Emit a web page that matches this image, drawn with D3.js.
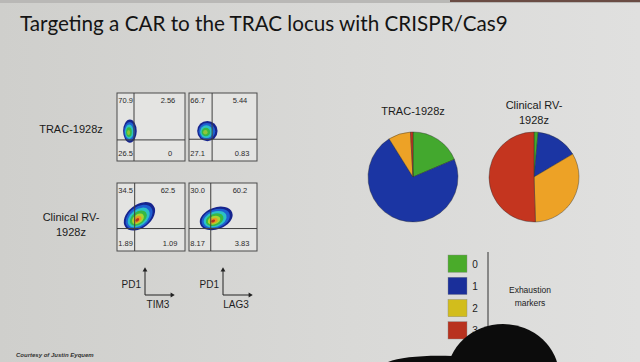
<!DOCTYPE html>
<html>
<head>
<meta charset="utf-8">
<script src="https://cdn.jsdelivr.net/npm/d3@7"></script>
<style>
  html, body { margin: 0; padding: 0; background: #d6d6d4; }
  svg { display: block; }
</style>
</head>
<body>
<svg id="chart" width="640" height="362"></svg>
<script>
// ---- data ----
var title = "Targeting a CAR to the TRAC locus with CRISPR/Cas9";
var rowLabels = [["TRAC-1928z"], ["Clinical RV-", "1928z"]];
var markerX = ["TIM3", "LAG3"];
var markerY = "PD1";

// quadrant percentages per flow plot: [top-left, top-right, bottom-left, bottom-right]
var quadTRAC = [["70.9", "2.56", "26.5", "0"], ["66.7", "5.44", "27.1", "0.83"]];
var quadRV = [["34.5", "62.5", "1.89", "1.09"], ["30.0", "60.2", "8.17", "3.83"]];

// gate positions (fraction of axis) and population centre / spread for each plot
var gateX = [[0.25, 0.34], [0.26, 0.32]];
var gateY = [[0.31, 0.32], [0.33, 0.33]];
var popCenter = [[[0.19, 0.44], [0.27, 0.44]], [[0.33, 0.51], [0.40, 0.48]]];
var popSpread = [[[0.10, 0.17, 0], [0.15, 0.15, 0]], [[0.26, 0.17, -38], [0.25, 0.16, -20]]];

var pieNames = [["TRAC-1928z"], ["Clinical RV-", "1928z"]];
var exhaustion = ["0", "1", "2", "3"];
var pieTRAC = [18.6, 72.5, 8.0, 0.9];
var pieRV = [1.5, 15.0, 33.0, 50.5];

var pieColors = ["#43a82e", "#1b35a3", "#eda226", "#c4351f"];
var legendColors = ["#4aab2a", "#1a2f9a", "#d2bd1c", "#b8321f"];
var densityColors = ["#16248e", "#1f5fd0", "#2cc0c6", "#38b844", "#a9d431", "#e79a22", "#b5331e"];

var svg = d3.select("#chart");
var W = 640, H = 362;

// ---- background (projected slide photo) ----
var defs = svg.append("defs");
var bg = defs.append("linearGradient").attr("id", "bg").attr("x1", 0).attr("x2", 1).attr("y1", 0).attr("y2", 0);
bg.append("stop").attr("offset", "0%").attr("stop-color", "#cfcfcc");
bg.append("stop").attr("offset", "55%").attr("stop-color", "#d9d9d7");
bg.append("stop").attr("offset", "100%").attr("stop-color", "#e0e0df");
svg.append("rect").attr("width", W).attr("height", H).attr("fill", "url(#bg)");
svg.append("rect").attr("x", 0).attr("y", 0).attr("width", W).attr("height", 3).attr("fill", "#b9b8b6");
svg.append("rect").attr("x", 450).attr("y", 0).attr("width", 190).attr("height", 2).attr("fill", "#6a4c44");

// ---- title ----
var t = svg.append("text")
    .attr("x", 20).attr("y", 31)
    .attr("font-family", "Lato, 'Open Sans', sans-serif")
    .attr("font-size", 24)
    .attr("fill", "#141414")
    .text(title);
var tw = t.node().getComputedTextLength();
t.attr("font-size", 24 * 488 / tw);

// ---- flow plots ----
var boxX = [117, 189];
var boxY = [93, 183];
var boxW = 68, boxH = 68;
var rows = [quadTRAC, quadRV];

rows.forEach(function (quads, r) {
    var lab = svg.append("text")
        .attr("font-family", "Arial, 'Liberation Sans', sans-serif")
        .attr("font-size", 11)
        .attr("fill", "#1a1a1a")
        .attr("text-anchor", "middle");
    var lines = rowLabels[r];
    var y0 = r === 0 ? 133 : 221;
    lines.forEach(function (s, i) {
        lab.append("tspan").attr("x", 71).attr("y", y0 + i * 15).text(s);
    });

    quads.forEach(function (q, c) {
        var x = d3.scaleLinear().domain([0, 1]).range([boxX[c], boxX[c] + boxW]);
        var y = d3.scaleLinear().domain([0, 1]).range([boxY[r] + boxH, boxY[r]]);
        var g = svg.append("g");

        g.append("rect")
            .attr("x", x(0)).attr("y", y(1))
            .attr("width", x(1) - x(0)).attr("height", y(0) - y(1))
            .attr("fill", "#e4e4e2").attr("stroke", "#4a4a4a").attr("stroke-width", 1);

        // population as nested density levels
        var cen = popCenter[r][c], sp = popSpread[r][c];
        var cx = x(cen[0]), cy = y(cen[1]);
        var rx = x(sp[0]) - x(0), ry = y(0) - y(sp[1]);
        var levels = r === 0 ? [1, 0.82, 0.62, 0.42, 0.22] : [1, 0.86, 0.7, 0.54, 0.38, 0.24, 0.12];
        var cols = r === 0 ? ["#16248e", "#1f5fd0", "#2cc0c6", "#38b844", "#8ec63a"] : densityColors;
        levels.forEach(function (k, i) {
            g.append("ellipse")
                .attr("cx", cx - (1 - k) * rx * 0.25).attr("cy", cy + (1 - k) * ry * 0.15)
                .attr("rx", rx * k).attr("ry", ry * k)
                .attr("transform", "rotate(" + sp[2] + "," + cx + "," + cy + ")")
                .attr("fill", cols[i]);
        });

        // gates
        g.append("line")
            .attr("x1", x(gateX[r][c])).attr("x2", x(gateX[r][c]))
            .attr("y1", y(0)).attr("y2", y(1))
            .attr("stroke", "#3e3e3e").attr("stroke-width", 1);
        g.append("line")
            .attr("x1", x(0)).attr("x2", x(1))
            .attr("y1", y(gateY[r][c])).attr("y2", y(gateY[r][c]))
            .attr("stroke", "#3e3e3e").attr("stroke-width", 1);

        var num = function (s, px, py, anchor) {
            g.append("text")
                .attr("x", px).attr("y", py)
                .attr("text-anchor", anchor)
                .attr("font-family", "Arial, 'Liberation Sans', sans-serif")
                .attr("font-size", 7.5)
                .attr("fill", "#2a2a2a")
                .text(s);
        };
        num(q[0], x(0.02), y(0.85), "start");
        num(q[1], x(0.75), y(0.85), "middle");
        num(q[2], x(0.02), y(0.07), "start");
        num(q[3], x(0.78), y(0.07), "middle");
    });
});

// ---- marker axis keys ----
var keyX = [145, 223];
markerX.forEach(function (m, i) {
    var ox = keyX[i], oy = 295;
    var k = svg.append("g").attr("stroke", "#222").attr("stroke-width", 1);
    k.append("line").attr("x1", ox).attr("x2", ox).attr("y1", oy).attr("y2", 269);
    k.append("line").attr("x1", ox).attr("x2", ox + 27).attr("y1", oy).attr("y2", oy);
    svg.append("path").attr("d", d3.symbol(d3.symbolTriangle, 10)).attr("fill", "#222")
        .attr("transform", "translate(" + ox + ",270)");
    svg.append("path").attr("d", d3.symbol(d3.symbolTriangle, 10)).attr("fill", "#222")
        .attr("transform", "translate(" + (ox + 27) + "," + oy + ") rotate(90)");
    svg.append("text").attr("x", ox - 4).attr("y", 288)
        .attr("text-anchor", "end")
        .attr("font-family", "Arial, 'Liberation Sans', sans-serif").attr("font-size", 10)
        .attr("fill", "#1e1e1e").text(markerY);
    svg.append("text").attr("x", ox + 13).attr("y", 308)
        .attr("text-anchor", "middle")
        .attr("font-family", "Arial, 'Liberation Sans', sans-serif").attr("font-size", 10)
        .attr("fill", "#1e1e1e").text(m);
});

svg.append("text").attr("x", 16).attr("y", 357)
    .attr("font-family", "Arial, 'Liberation Sans', sans-serif").attr("font-size", 6)
    .attr("font-style", "italic").attr("font-weight", "bold")
    .attr("fill", "#333").text("Courtesy of Justin Eyquem");

// ---- pies ----
var pie = d3.pie().sort(null).startAngle(0).endAngle(2 * Math.PI);
var arc = d3.arc().innerRadius(0).outerRadius(45);
var pieCX = [413, 534];
[pieTRAC, pieRV].forEach(function (vals, i) {
    var g = svg.append("g").attr("transform", "translate(" + pieCX[i] + ",177)");
    g.selectAll("path").data(pie(vals)).enter().append("path")
        .attr("d", arc)
        .attr("fill", function (d, j) { return pieColors[j]; })
        .attr("stroke", "#2a2a2a").attr("stroke-width", 0.4);
    var lab = svg.append("text")
        .attr("text-anchor", "middle")
        .attr("font-family", "Arial, 'Liberation Sans', sans-serif")
        .attr("font-size", 11).attr("fill", "#1a1a1a");
    var y0 = pieNames[i].length === 1 ? 115 : 109;
    pieNames[i].forEach(function (s, j) {
        lab.append("tspan").attr("x", pieCX[i]).attr("y", y0 + j * 15).text(s);
    });
});

// ---- legend ----
var ly = d3.scaleBand().domain(exhaustion).range([255, 339]).paddingInner(0.22);
exhaustion.forEach(function (e, i) {
    svg.append("rect").attr("x", 448).attr("y", ly(e))
        .attr("width", 19).attr("height", ly.bandwidth())
        .attr("fill", legendColors[i]).attr("stroke", "#888").attr("stroke-width", 0.4);
    svg.append("text").attr("x", 475).attr("y", ly(e) + ly.bandwidth() / 2 + 4)
        .attr("text-anchor", "middle")
        .attr("font-family", "Arial, 'Liberation Sans', sans-serif").attr("font-size", 10)
        .attr("fill", "#222").text(e);
});
svg.append("line").attr("x1", 488).attr("x2", 488).attr("y1", 252).attr("y2", 332)
    .attr("stroke", "#333").attr("stroke-width", 1);
var ex = svg.append("text").attr("text-anchor", "middle")
    .attr("font-family", "Arial, 'Liberation Sans', sans-serif").attr("font-size", 8.5)
    .attr("fill", "#222");
ex.append("tspan").attr("x", 530).attr("y", 293).text("Exhaustion");
ex.append("tspan").attr("x", 530).attr("y", 306).text("markers");

// ---- audience head in the foreground of the photo ----
svg.append("ellipse").attr("cx", 503).attr("cy", 376).attr("rx", 56).attr("ry", 52).attr("fill", "#0c0c0c");
svg.append("path")
    .attr("d", "M388,362 C400,357 425,355 452,356 L462,362 Z")
    .attr("fill", "#0c0c0c");
</script>
</body>
</html>
